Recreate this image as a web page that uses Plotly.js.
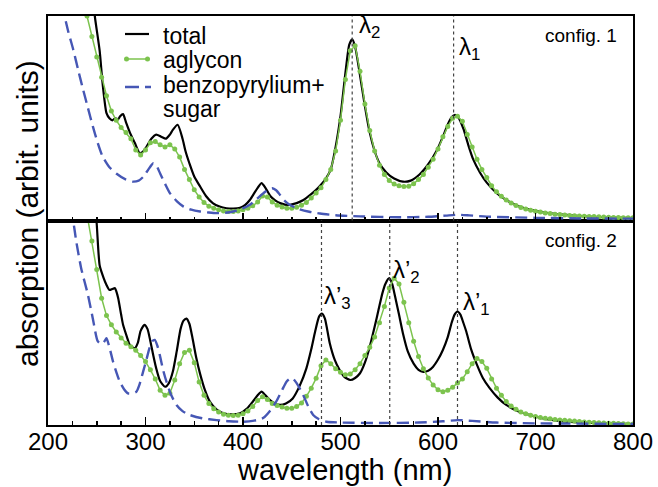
<!DOCTYPE html>
<html>
<head>
<meta charset="utf-8">
<script src="https://cdn.plot.ly/plotly-3.0.1.min.js"></script>
<style>html,body{margin:0;padding:0;background:#fff}#chart{width:658px;height:487px}</style>
</head>
<body>
<div id="chart"></div>
<script>
// ---------- DATA (wavelength in nm, absorption in arbitrary units 0..1 per panel) ----------
// config. 1 (top panel)
const totalTopX = [245,248,253,256,260,263,266,269,272,274,277,280,284,289,294,298,301,306,311,316,321,325,328,333,338,341,345,350,356,362,369,376,383,390,397,402,407,413,419,423,428,433,438,443,448,455,462,469,475,480,485,490,495,500,505,509,512,515,520,525,530,535,540,547,555,564,572,581,590,599,605,610,614,617,620,626,631,636,643,650,660,670,680,690,700,711,725,745,770,800];
const totalTopY = [1.15,1.00,0.83,0.67,0.525,0.50,0.49,0.50,0.495,0.51,0.52,0.48,0.43,0.38,0.33,0.34,0.36,0.40,0.42,0.41,0.40,0.42,0.443,0.468,0.40,0.34,0.28,0.215,0.166,0.12,0.085,0.068,0.06,0.058,0.062,0.075,0.10,0.145,0.183,0.16,0.12,0.098,0.085,0.078,0.077,0.085,0.10,0.125,0.15,0.175,0.205,0.25,0.36,0.51,0.72,0.86,0.886,0.85,0.71,0.56,0.43,0.34,0.28,0.235,0.205,0.19,0.195,0.225,0.275,0.345,0.41,0.47,0.505,0.516,0.51,0.45,0.37,0.30,0.235,0.185,0.135,0.10,0.075,0.058,0.047,0.038,0.03,0.022,0.016,0.012];

const benzoTopX = [214,217,221,226,231,236,241,246,251,256,263,270,280,287,293,298,303,308,311,315,320,325,332,339,347,356,365,373,382,390,398,407,414,421,426,430,434,438,442,447,453,458,468,479,495,520,560,590,608,620,632,650,700,750,800];
const benzoTopY = [1.06,1.00,0.92,0.834,0.735,0.64,0.55,0.46,0.38,0.313,0.26,0.23,0.20,0.19,0.195,0.215,0.25,0.28,0.27,0.23,0.18,0.134,0.095,0.068,0.053,0.044,0.039,0.036,0.038,0.044,0.055,0.077,0.105,0.134,0.152,0.158,0.148,0.125,0.10,0.08,0.065,0.055,0.043,0.034,0.026,0.02,0.016,0.018,0.024,0.028,0.025,0.019,0.013,0.01,0.009];

const aglyconX = [240,245,250,255,260,265,270,275,280,285,290,295,300,305,310,315,320,325,330,335,340,345,350,355,360,365,370,375,380,385,390,395,400,405,410,415,420,425,430,435,440,445,450,455,460,465,470,475,480,485,490,495,500,505,510,515,520,525,530,535,540,545,550,555,560,565,570,575,580,585,590,595,600,605,610,615,620,625,630,635,640,645,650,655,660,665,670,675,680,685,690,695,700,705,710,715,720,725,730,735,740,745,750,755,760,765,770,775,780,785,790,795,800];
const aglyconTopY = [1.00,0.90,0.80,0.70,0.61,0.535,0.49,0.455,0.43,0.40,0.345,0.32,0.345,0.38,0.386,0.37,0.36,0.37,0.35,0.31,0.25,0.20,0.15,0.115,0.088,0.07,0.06,0.052,0.046,0.044,0.044,0.047,0.052,0.06,0.072,0.09,0.12,0.115,0.09,0.075,0.066,0.06,0.06,0.065,0.075,0.088,0.11,0.135,0.16,0.20,0.25,0.34,0.49,0.69,0.83,0.855,0.73,0.57,0.44,0.34,0.27,0.225,0.195,0.178,0.17,0.166,0.168,0.18,0.20,0.225,0.26,0.30,0.35,0.41,0.46,0.50,0.51,0.485,0.42,0.36,0.30,0.25,0.21,0.17,0.14,0.118,0.10,0.085,0.073,0.063,0.056,0.05,0.045,0.041,0.037,0.034,0.031,0.029,0.027,0.025,0.023,0.022,0.021,0.02,0.019,0.018,0.017,0.016,0.015,0.015,0.014,0.014,0.013];

// config. 2 (bottom panel)
const totalBotX = [246,249.7,253,257,260,263,266,268.5,270,272,275,277,281,284,289,292,295,299,302,305,308,311,315,320,324,328,332,336,339,342,345,348,352,356,361,366,373,380,388,397,404,410,415,419,423,428,433,438,444,451,458,465,470,474,478,481,484,489,494,499,504,510,515,520,525,530,535,539,543,546,550,553,556,560,564,569,575,580,585,590,595,600,605,610,614,617,620,623,626,629,634,640,646,653,661,670,681,694,710,728,760,800];
const totalBotY = [1.15,1.00,0.78,0.72,0.685,0.66,0.665,0.67,0.655,0.62,0.54,0.49,0.43,0.39,0.375,0.40,0.46,0.49,0.47,0.41,0.34,0.277,0.215,0.187,0.205,0.26,0.36,0.47,0.51,0.52,0.495,0.43,0.33,0.25,0.17,0.114,0.075,0.057,0.052,0.057,0.08,0.114,0.145,0.163,0.145,0.12,0.105,0.098,0.105,0.13,0.19,0.277,0.37,0.457,0.53,0.545,0.52,0.40,0.32,0.27,0.235,0.22,0.23,0.253,0.305,0.383,0.48,0.563,0.645,0.69,0.718,0.69,0.628,0.54,0.449,0.36,0.30,0.27,0.26,0.265,0.285,0.32,0.367,0.43,0.50,0.54,0.555,0.54,0.50,0.457,0.37,0.294,0.23,0.18,0.135,0.098,0.07,0.049,0.03,0.018,0.01,0.005];

const benzoBotX = [222,225.7,229,234,241,246,251,255,258,260,263,266.7,270,273.6,278,282,287,290.7,294,297.5,301,304,307,309.5,312,314.6,318,321.5,326,331.8,338,345.4,358,372.8,386,400,410,416,421,427,434,440,444.6,448,451,455,461.7,467,472,478,485.7,500,540,580,605,620,635,660,700,800];
const benzoBotY = [1.06,1.00,0.897,0.767,0.636,0.52,0.41,0.395,0.41,0.424,0.38,0.31,0.26,0.212,0.175,0.155,0.155,0.163,0.20,0.26,0.32,0.375,0.41,0.416,0.39,0.343,0.27,0.212,0.15,0.098,0.068,0.049,0.033,0.024,0.018,0.016,0.02,0.026,0.035,0.065,0.114,0.17,0.212,0.226,0.228,0.205,0.147,0.09,0.049,0.028,0.016,0.012,0.01,0.012,0.018,0.024,0.02,0.012,0.008,0.005];

const aglyconBotY = [1.03,0.90,0.76,0.62,0.535,0.49,0.455,0.425,0.40,0.383,0.365,0.34,0.31,0.27,0.225,0.17,0.145,0.155,0.22,0.30,0.355,0.365,0.305,0.21,0.145,0.105,0.08,0.063,0.053,0.048,0.047,0.048,0.055,0.068,0.09,0.12,0.138,0.125,0.105,0.095,0.088,0.082,0.082,0.09,0.108,0.14,0.18,0.228,0.29,0.318,0.30,0.275,0.258,0.246,0.25,0.27,0.30,0.34,0.38,0.43,0.50,0.58,0.67,0.718,0.69,0.60,0.50,0.41,0.335,0.275,0.23,0.195,0.172,0.163,0.17,0.185,0.205,0.225,0.26,0.30,0.325,0.31,0.277,0.225,0.18,0.145,0.115,0.093,0.077,0.064,0.055,0.048,0.042,0.037,0.033,0.03,0.027,0.025,0.023,0.021,0.019,0.017,0.015,0.014,0.012,0.011,0.01,0.009,0.008,0.007,0.006,0.005,0.005];

// peak markers (nm) and their labels
const peaksTop = [512, 616];
const peaksTopLabels = ['λ<sub>2</sub>', 'λ<sub>1</sub>'];
const peaksBot = [480.5, 550.5, 620];
const peaksBotLabels = ['λ’<sub>3</sub>', 'λ’<sub>2</sub>', 'λ’<sub>1</sub>'];
const xTicks = [200, 300, 400, 500, 600, 700, 800];
const seriesNames = ['total', 'aglycon', 'benzopyrylium+', 'sugar'];
const panelNames = ['config. 1', 'config. 2'];
const xTitle = 'wavelength (nm)';
const yTitle = 'absorption (arbit. units)';

// ---------- STYLE ----------
const FONT = 'Liberation Sans, Arial, Helvetica, sans-serif';
const C_BLACK = '#000000', C_GREEN = '#7cc34e', C_BLUE = '#4657b5';
const W = 658, H = 487, ML = 48, MR = 25, MT = 16, MB = 62;
const PW = W - ML - MR, PH = H - MT - MB;
const px = v => (v - ML) / PW;        // pixel -> paper x
const py = v => (H - MB - v) / PH;    // pixel -> paper y

const blackStyle = {color: C_BLACK, width: 2.2, shape: 'spline', smoothing: 0.6};
const blueStyle = {color: C_BLUE, width: 2.4, dash: '12px,6px', shape: 'spline', smoothing: 0.6};
const greenLine = {color: C_GREEN, width: 1.5};
const greenMarker = {color: C_GREEN, size: 5};

const traces = [
  {x: totalTopX, y: totalTopY, xaxis: 'x2', yaxis: 'y2', mode: 'lines', line: blackStyle, name: 'total'},
  {x: aglyconX, y: aglyconTopY, xaxis: 'x2', yaxis: 'y2', mode: 'lines+markers', line: greenLine, marker: greenMarker, name: 'aglycon'},
  {x: benzoTopX, y: benzoTopY, xaxis: 'x2', yaxis: 'y2', mode: 'lines', line: blueStyle, name: 'benzopyrylium+sugar'},
  {x: totalBotX, y: totalBotY, xaxis: 'x', yaxis: 'y', mode: 'lines', line: blackStyle, name: 'total'},
  {x: aglyconX, y: aglyconBotY, xaxis: 'x', yaxis: 'y', mode: 'lines+markers', line: greenLine, marker: greenMarker, name: 'aglycon'},
  {x: benzoBotX, y: benzoBotY, xaxis: 'x', yaxis: 'y', mode: 'lines', line: blueStyle, name: 'benzopyrylium+sugar'}
];

const xCommon = {
  range: [200, 800], tickvals: xTicks, ticks: 'inside', ticklen: 8, tickwidth: 1.5, tickcolor: '#000',
  minor: {dtick: 25, tick0: 200, ticks: 'inside', ticklen: 4, tickwidth: 1.5, tickcolor: '#000', showgrid: false},
  showline: true, linewidth: 2, linecolor: '#000', mirror: true,
  showgrid: false, zeroline: false
};
const yCommon = {
  range: [0, 1], showline: true, linewidth: 2, linecolor: '#000', mirror: true,
  showticklabels: false, ticks: '', showgrid: false, zeroline: false, fixedrange: true
};

const shapes = [];
peaksTop.forEach(p => shapes.push({type: 'line', xref: 'x2', yref: 'y2 domain', x0: p, x1: p, y0: 0, y1: 1,
  line: {color: '#444', width: 1.2, dash: 'dot'}}));
peaksBot.forEach(p => shapes.push({type: 'line', xref: 'x', yref: 'y domain', x0: p, x1: p, y0: 0, y1: 1,
  line: {color: '#444', width: 1.2, dash: 'dot'}}));

// manual legend samples
shapes.push({type: 'line', xref: 'paper', yref: 'paper', x0: px(125), x1: px(149), y0: py(34), y1: py(34), line: {color: C_BLACK, width: 2.2}});
shapes.push({type: 'line', xref: 'paper', yref: 'paper', x0: px(125), x1: px(149), y0: py(59), y1: py(59), line: {color: C_GREEN, width: 1.5}});
[126.5, 147.5].forEach(c => shapes.push({type: 'circle', xref: 'paper', yref: 'paper', x0: px(c - 2.5), x1: px(c + 2.5), y0: py(61.5), y1: py(56.5),
  fillcolor: C_GREEN, line: {width: 0}}));
shapes.push({type: 'line', xref: 'paper', yref: 'paper', x0: px(125), x1: px(151), y0: py(87), y1: py(87), line: {color: C_BLUE, width: 2.4, dash: '14px,6px'}});

const annFont = (s) => ({family: FONT, size: s, color: '#000'});
const annotations = [];
// legend texts
[[seriesNames[0], 36], [seriesNames[1], 60], [seriesNames[2], 85], [seriesNames[3], 109]].forEach(([t, y]) =>
  annotations.push({xref: 'paper', yref: 'paper', x: px(161), y: py(y), xanchor: 'left', yanchor: 'middle', text: t, showarrow: false, font: annFont(23)}));
// panel labels
annotations.push({xref: 'paper', yref: 'paper', x: px(619), y: py(35), xanchor: 'right', yanchor: 'middle', text: panelNames[0], showarrow: false, font: annFont(19)});
annotations.push({xref: 'paper', yref: 'paper', x: px(619), y: py(240), xanchor: 'right', yanchor: 'middle', text: panelNames[1], showarrow: false, font: annFont(19)});
// peak labels
const topLabPos = [[357, 27], [457, 49]];
const botLabPos = [[322, 297], [391, 271], [461, 303]];
peaksTopLabels.forEach((t, i) => annotations.push({xref: 'paper', yref: 'paper', x: px(topLabPos[i][0]), y: py(topLabPos[i][1]), xanchor: 'left', yanchor: 'middle', text: t, showarrow: false, font: annFont(24)}));
peaksBotLabels.forEach((t, i) => annotations.push({xref: 'paper', yref: 'paper', x: px(botLabPos[i][0]), y: py(botLabPos[i][1]), xanchor: 'left', yanchor: 'middle', text: t, showarrow: false, font: annFont(24)}));
// axis titles
annotations.push({xref: 'paper', yref: 'paper', x: px(27), y: py(214), xanchor: 'center', yanchor: 'middle', textangle: -90,
  text: yTitle, showarrow: false, font: annFont(30)});
annotations.push({xref: 'paper', yref: 'paper', x: px(344), y: py(470), xanchor: 'center', yanchor: 'middle',
  text: xTitle, showarrow: false, font: annFont(29)});

const layout = {
  width: W, height: H, margin: {l: ML, r: MR, t: MT, b: MB},
  paper_bgcolor: '#fff', plot_bgcolor: '#fff', showlegend: false,
  font: {family: FONT, color: '#000'},
  xaxis: Object.assign({}, xCommon, {anchor: 'y', domain: [0, 1], tickfont: {family: FONT, size: 24, color: '#000'}, ticklabelstandoff: -6}),
  xaxis2: Object.assign({}, xCommon, {anchor: 'y2', domain: [0, 1], matches: 'x', showticklabels: false}),
  yaxis: Object.assign({}, yCommon, {domain: [0, 0.5], anchor: 'x'}),
  yaxis2: Object.assign({}, yCommon, {domain: [0.5, 1], anchor: 'x2'}),
  shapes: shapes, annotations: annotations
};

Plotly.newPlot('chart', traces, layout, {staticPlot: true, displayModeBar: false});
</script>
</body>
</html>
